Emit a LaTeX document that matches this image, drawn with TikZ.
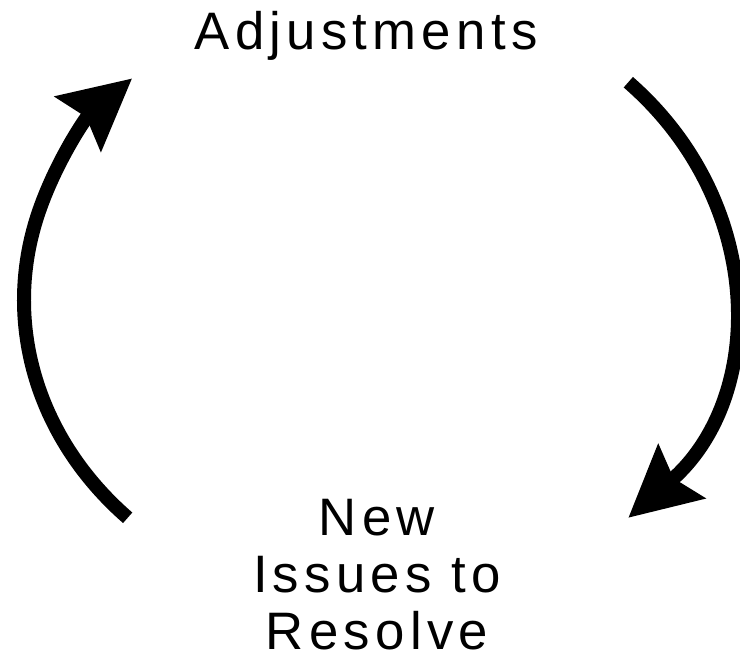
\documentclass[tikz,border=0pt]{standalone}
\usepackage{fontspec}
\setmainfont{Liberation Sans}
\usetikzlibrary{
    arrows.meta,
    calc,
    backgrounds
}
\definecolor{ink}{RGB}{0,0,0}
\tikzset{
    cyclelabel/.style={
        font=\fontsize{30}{32.3}\selectfont\addfontfeature{LetterSpace=10},
        text=ink,
        inner sep=0pt,
        align=center
    },
    cyclearrow/.style={
        -{Stealth[length=1.4cm, width=1.4cm, inset=0.2cm]},
        draw=ink,
        line width=0.28cm
    }
}

\begin{document}
\begin{tikzpicture}[
    show background rectangle,
    inner frame sep=0pt,
    background rectangle/.style={fill=white}
]
    \useasboundingbox (0,0) rectangle (14.8,-13.1);

    % Loop centre
    \coordinate (hub) at (7.56,-6.0);

    % Labels
    \node[cyclelabel, anchor=base] (adjust) at (7.32,-0.98) {Adjustments};
    \node[cyclelabel, anchor=base] (issues) at (7.54,-12.98) {New\\Issues to\\Resolve};

    % Loop ends
    \coordinate (rtop) at ([shift={(45:7.08 and 6.16)}]hub);
    \coordinate (lbot) at ([shift={(225:7.08 and 6.16)}]hub);

    % Arrows
    \draw[cyclearrow] (rtop) arc[start angle=45, end angle=-45, x radius=7.08, y radius=6.16];
    \draw[cyclearrow] (lbot) arc[start angle=225, end angle=134, x radius=7.08, y radius=6.16];

\end{tikzpicture}
\end{document}
